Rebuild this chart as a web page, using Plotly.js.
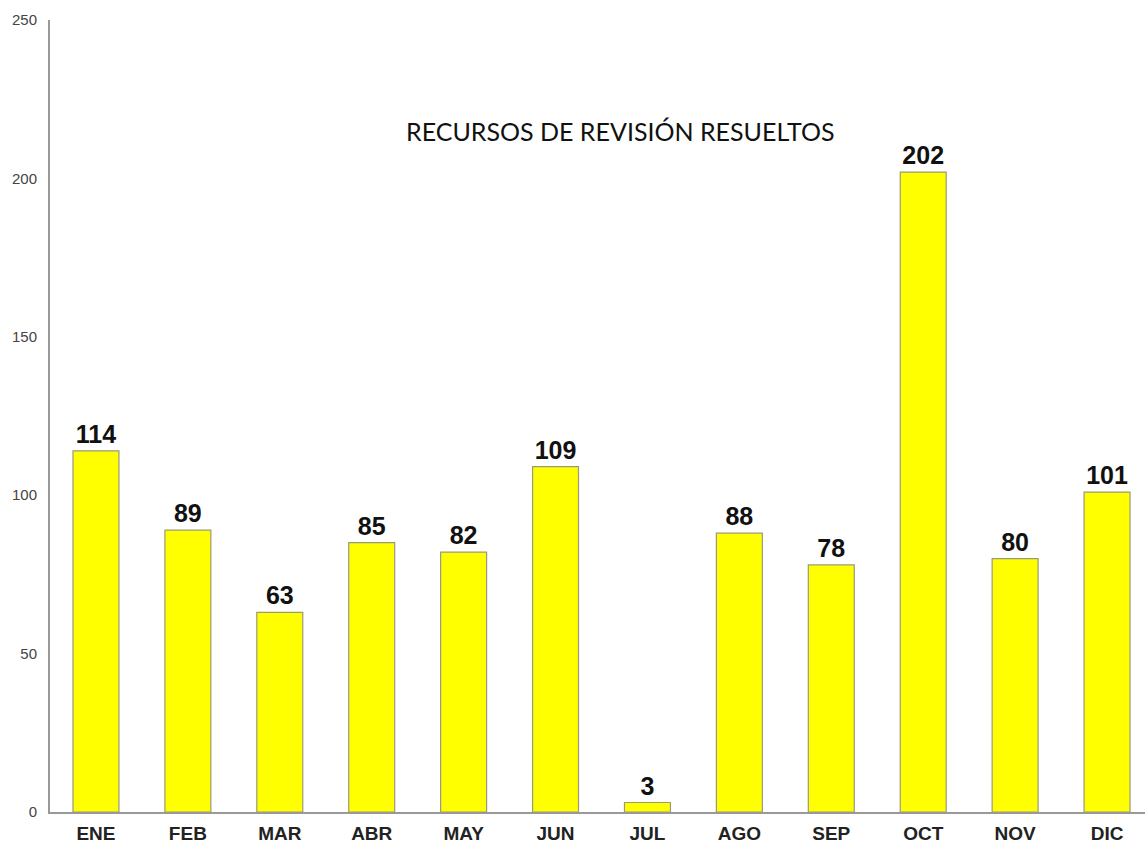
<!DOCTYPE html>
<html>
<head>
<meta charset="utf-8">
<script src="https://cdn.plot.ly/plotly-3.0.1.min.js"></script>
<style>
  html, body { margin: 0; padding: 0; background: #fff; }
  #chart { width: 1145px; height: 848px; }
</style>
</head>
<body>
<div id="chart"></div>
<script>
// monthly resolved review appeals
const months = ['ENE', 'FEB', 'MAR', 'ABR', 'MAY', 'JUN', 'JUL', 'AGO', 'SEP', 'OCT', 'NOV', 'DIC'];
const resueltos = [114, 89, 63, 85, 82, 109, 3, 88, 78, 202, 80, 101];
const yTicks = [0, 50, 100, 150, 200, 250];

const trace = {
    type: 'bar',
    x: months,
    y: resueltos,
    width: 0.5,
    marker: {
        color: '#ffff00',
        line: { color: '#9a9a7a', width: 1.2 }
    },
    text: resueltos.map(v => '<b>' + v + '</b>'),
    textposition: 'outside',
    textfont: { family: 'Liberation Sans, Arial, sans-serif', size: 25, color: '#111' },
    cliponaxis: false,
    hoverinfo: 'x+y'
};

const layout = {
    width: 1145,
    height: 848,
    margin: { l: 50, r: 0, t: 20, b: 36 },
    paper_bgcolor: '#fff',
    plot_bgcolor: '#fff',
    showlegend: false,
    xaxis: {
        type: 'category',
        range: [-0.5, 11.413],
        showline: true,
        linecolor: '#999',
        linewidth: 2,
        ticks: '',
        showgrid: false,
        zeroline: false,
        tickfont: { family: 'Liberation Sans, Arial, sans-serif', size: 19, color: '#222', weight: 'bold' },
        ticklabelstandoff: 3
    },
    yaxis: {
        range: [0, 250],
        tickvals: yTicks,
        showline: true,
        linecolor: '#999',
        linewidth: 2,
        ticks: '',
        showgrid: false,
        zeroline: false,
        tickfont: { family: 'Liberation Sans, Arial, sans-serif', size: 15, color: '#444' },
        ticklabelstandoff: 8
    },
    annotations: [{
        text: 'RECURSOS DE REVISIÓN RESUELTOS',
        xref: 'paper', yref: 'paper',
        x: 0.521, y: 0.86,
        xanchor: 'center', yanchor: 'middle',
        showarrow: false,
        font: { family: 'Lato, Open Sans, sans-serif', size: 25, color: '#111' }
    }]
};

Plotly.newPlot('chart', [trace], layout, { displayModeBar: false, staticPlot: true });
</script>
</body>
</html>
